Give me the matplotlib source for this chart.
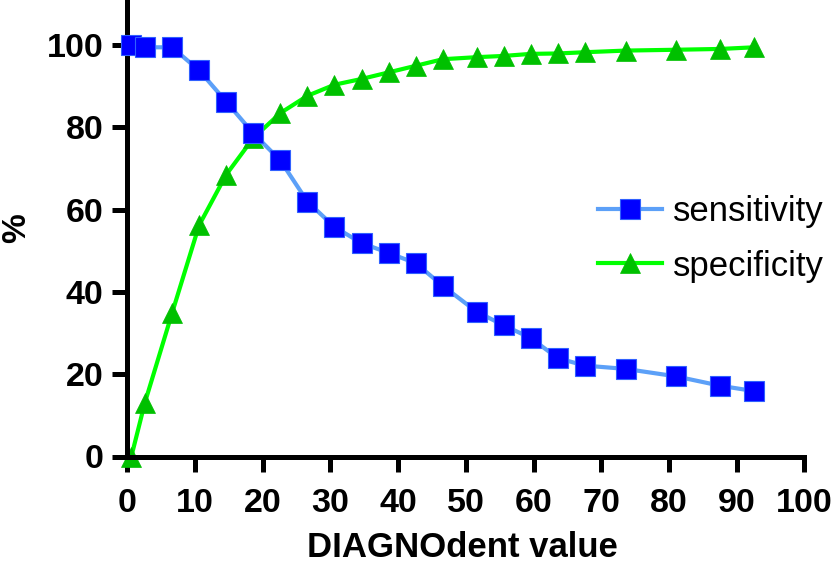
import matplotlib
matplotlib.use("Agg")
import matplotlib.pyplot as plt

plt.rcParams['font.family'] = ['Liberation Sans', 'DejaVu Sans']

x_values = [0.6, 2.6, 6.6, 10.6, 14.6, 18.6, 22.6, 26.6, 30.6, 34.6, 38.6, 42.6,
            46.6, 51.6, 55.6, 59.6, 63.6, 67.6, 73.6, 81.0, 87.6, 92.6]
sensitivity = [100.0, 99.5, 99.5, 93.9, 86.3, 78.6, 72.0, 62.0, 55.8, 51.9, 49.5, 47.0,
               41.5, 35.2, 31.9, 28.8, 23.9, 22.1, 21.3, 19.5, 17.2, 15.9]
specificity = [0.0, 13.1, 34.8, 56.2, 68.5, 77.4, 83.5, 87.7, 90.4, 91.8, 93.4, 95.0,
               96.6, 97.1, 97.4, 97.9, 98.0, 98.3, 98.7, 98.9, 99.1, 99.5]
x_ticks = [0, 10, 20, 30, 40, 50, 60, 70, 80, 90, 100]
y_ticks = [0, 20, 40, 60, 80, 100]

W, H = 839, 565
fig = plt.figure(figsize=(W/100, H/100), dpi=100)
ax = fig.add_axes([127.3/W, 108.5/H, 677/W, 456.5/H])

ax.plot(x_values, sensitivity, color='#5ca0f8', lw=3, marker='s', ms=13.8,
        mfc='#0000ff', mec='#3060ff', mew=0.8, label='sensitivity', clip_on=False, zorder=3)
ax.plot(x_values, specificity, color='#00ff00', lw=3, marker='^', ms=14.5,
        mfc='#00c000', mec='#00c000', mew=0.5, label='specificity', clip_on=False, zorder=2)

ax.set_xlim(0, 100)
ax.set_ylim(0, 111)
ax.set_xticks(x_ticks)
ax.set_yticks(y_ticks)
for s in ['top', 'right']:
    ax.spines[s].set_visible(False)
for s in ['left', 'bottom']:
    ax.spines[s].set_linewidth(3.6)
ax.tick_params(axis='both', length=10.5, width=3.6, labelsize=24.5)
ax.tick_params(axis='x', pad=12.5)
ax.tick_params(axis='y', pad=6.5)
for lab in ax.get_xticklabels() + ax.get_yticklabels():
    lab.set_fontweight('bold')

fig.text(462.5/W, (H-557)/H, 'DIAGNOdent value', fontsize=25, fontweight='bold',
         ha='center', va='baseline')
fig.text(16.5/W, (H-228)/H, '%', fontsize=24, fontweight='bold',
         ha='center', va='center', rotation=90)

leg = ax.legend(loc='upper left', bbox_to_anchor=(598/W, (H-195)/H),
                bbox_transform=fig.transFigure,
                frameon=False, fontsize=25, handlelength=1.85, handletextpad=0.32,
                labelspacing=0.62, borderaxespad=0, borderpad=0)

fig.savefig('out.png', dpi=100)
